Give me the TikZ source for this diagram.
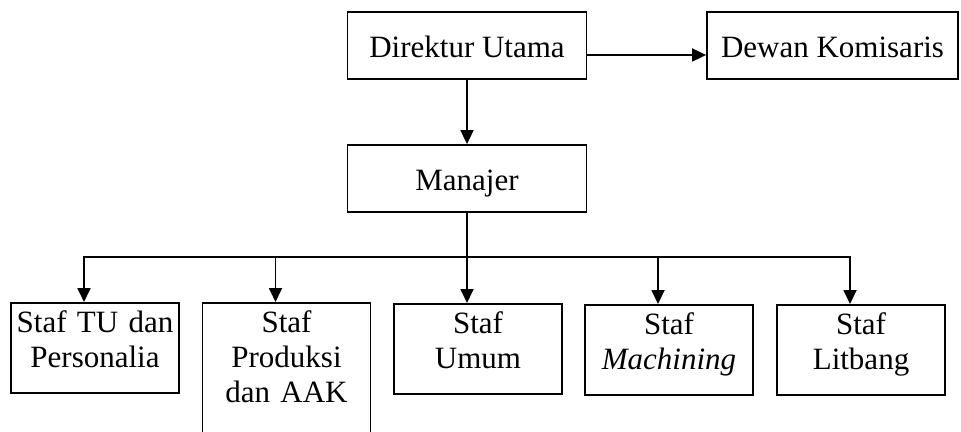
\documentclass[tikz,border=0pt]{standalone}
\usepackage{fontspec}
\setmainfont{Liberation Serif}
\usetikzlibrary{arrows.meta}

\tikzstyle{topbox}=[draw,line width=0.9pt,minimum height=33.5pt,inner sep=2pt,text height=12.5pt,text depth=0pt]
\tikzstyle{stafbox}=[draw,line width=0.9pt,anchor=north,text width=81pt,align=center,inner xsep=1.5pt,inner ysep=2pt,text height=13pt,text depth=28pt]
\tikzstyle{org line} = [draw,line width=0.9pt]
\tikzstyle{org arrow} = [draw,line width=0.9pt,->]

\begin{document}
\begin{tikzpicture}[x=0.5pt,y=-0.5pt,>={Triangle[length=7pt,width=6.5pt]},font=\fontsize{15.5}{17.5}\selectfont]
		\useasboundingbox (0,0) rectangle (961,432);
		\clip (0,0) rectangle (961,432);
		% Top level
		\node[topbox,minimum width=119.5pt] (dirut) at (467,45.5) {Direktur Utama};
		\node[topbox,minimum width=125.5pt] (dekom) at (832.5,45.5) {Dewan Komisaris};
		\node[topbox,minimum width=119.5pt] (manajer) at (467,178.5) {Manajer};
		% Staff boxes
		\node[stafbox] (tu) at (95,302) {Staf TU dan\\Personalia};
		\node[stafbox,text depth=53pt] (produksi) at (286.5,302) {Staf\\Produksi\\dan AAK};
		\node[stafbox] (umum) at (478,303) {Staf\\Umum};
		\node[stafbox] (machining) at (669,304) {Staf\\\textit{Machining}};
		\node[stafbox] (litbang) at (861,304) {Staf\\Litbang};
		% Connect boxes
		\path[org arrow] ([yshift=-4.75pt]dirut.east) -- ([yshift=-4.75pt]dekom.west);
		\path[org arrow] (dirut) -- (manajer);
		\coordinate (bus) at (467,257);
		\path[org line] (manajer) -- (bus);
		\foreach \dest in {tu,produksi,umum,machining,litbang}
		\path[org arrow] (bus) -| ([xshift=-5.5pt]\dest.north);
\end{tikzpicture}
\end{document}
